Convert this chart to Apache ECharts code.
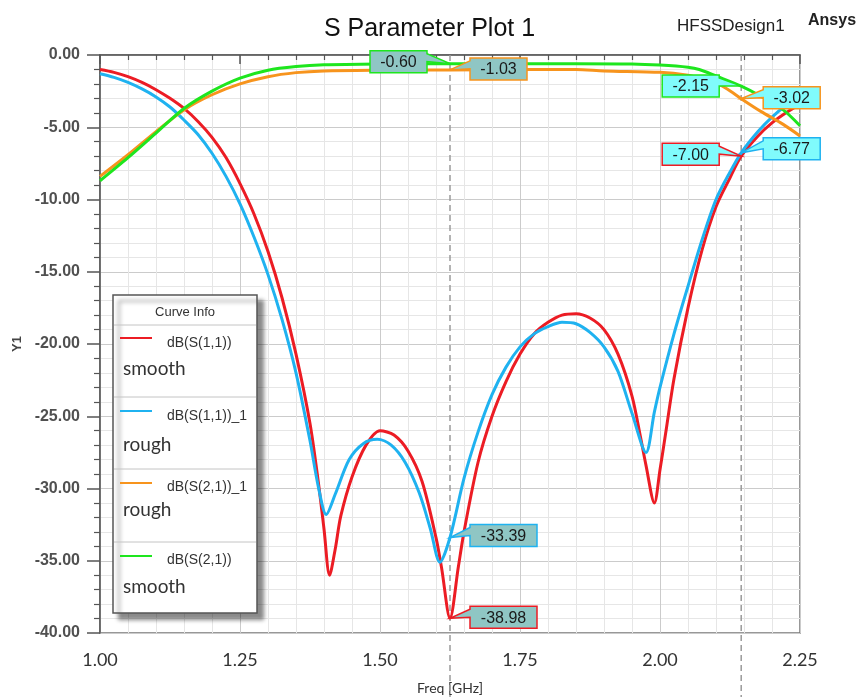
<!DOCTYPE html>
<html>
<head>
<meta charset="utf-8">
<title>S Parameter Plot 1</title>
<style>
  html, body { margin: 0; padding: 0; background: #fff; }
  #main { width: 859px; height: 697px; }
</style>
</head>
<body>
<div id="main"></div>
<script src="https://cdn.jsdelivr.net/npm/echarts@6/dist/echarts.min.js"></script>
<script>
// dB(S(1,1)) smooth
var s11SmoothFreq = [1.00, 1.025, 1.05, 1.075, 1.10, 1.125, 1.15, 1.175, 1.20, 1.225, 1.25, 1.275, 1.30, 1.325, 1.35, 1.375, 1.39, 1.40, 1.41, 1.42, 1.43, 1.45, 1.475, 1.50, 1.525, 1.55, 1.575, 1.60, 1.61, 1.625, 1.64, 1.65, 1.675, 1.70, 1.725, 1.75, 1.775, 1.80, 1.825, 1.85, 1.875, 1.90, 1.925, 1.95, 1.965, 1.975, 1.99, 2.00, 2.01, 2.025, 2.05, 2.075, 2.10, 2.125, 2.145, 2.175, 2.20, 2.225, 2.25];
var s11SmoothDb = [-1.0, -1.2, -1.5, -1.9, -2.4, -3.0, -3.7, -4.6, -5.7, -7.1, -8.9, -11.0, -13.6, -16.8, -20.7, -25.5, -29.6, -32.8, -36.0, -34.2, -31.9, -29.2, -27.0, -26.0, -26.3, -27.4, -29.5, -33.4, -35.5, -38.98, -35.4, -33.0, -28.2, -25.0, -22.6, -20.7, -19.3, -18.5, -18.0, -17.9, -18.2, -19.0, -20.7, -23.6, -26.4, -28.4, -31.0, -28.7, -26.2, -22.4, -17.5, -13.5, -10.5, -8.5, -7.00, -5.6, -4.7, -4.0, -3.4];

// dB(S(1,1))_1 rough
var s11RoughFreq = [1.00, 1.025, 1.05, 1.075, 1.10, 1.125, 1.15, 1.175, 1.20, 1.225, 1.25, 1.275, 1.30, 1.325, 1.35, 1.375, 1.39, 1.404, 1.42, 1.445, 1.47, 1.495, 1.52, 1.545, 1.57, 1.59, 1.607, 1.625, 1.65, 1.675, 1.70, 1.725, 1.75, 1.775, 1.80, 1.825, 1.85, 1.875, 1.90, 1.925, 1.95, 1.975, 1.99, 2.00, 2.025, 2.05, 2.075, 2.10, 2.125, 2.145, 2.175, 2.20, 2.225, 2.25];
var s11RoughDb = [-1.3, -1.55, -1.9, -2.35, -2.9, -3.6, -4.5, -5.5, -6.8, -8.4, -10.3, -12.6, -15.2, -18.3, -22.0, -26.7, -29.9, -31.8, -30.4, -28.0, -26.9, -26.6, -27.0, -28.2, -30.3, -32.8, -35.1, -33.39, -29.3, -26.1, -23.5, -21.6, -20.2, -19.3, -18.8, -18.5, -18.6, -19.2, -20.2, -21.9, -24.8, -27.5, -24.7, -23.0, -19.3, -16.0, -12.8, -10.0, -8.1, -6.77, -5.3, -4.3, -3.5, -2.9];

// dB(S(2,1))_1 rough
var s21RoughFreq = [1.00, 1.05, 1.10, 1.15, 1.20, 1.25, 1.30, 1.35, 1.40, 1.50, 1.625, 1.75, 1.85, 1.90, 2.00, 2.05, 2.07, 2.10, 2.12, 2.145, 2.18, 2.22, 2.25];
var s21RoughDb = [-8.4, -6.9, -5.3, -3.8, -2.75, -2.0, -1.5, -1.22, -1.1, -1.05, -1.03, -1.0, -1.0, -1.1, -1.2, -1.4, -1.6, -1.95, -2.35, -3.02, -3.9, -4.8, -5.6];

// dB(S(2,1)) smooth
var s21SmoothFreq = [1.00, 1.05, 1.10, 1.15, 1.20, 1.25, 1.30, 1.35, 1.40, 1.50, 1.625, 1.75, 1.85, 1.95, 2.00, 2.05, 2.07, 2.10, 2.145, 2.18, 2.22, 2.25];
var s21SmoothDb = [-8.7, -7.1, -5.4, -3.7, -2.5, -1.6, -1.05, -0.8, -0.68, -0.62, -0.60, -0.60, -0.60, -0.62, -0.70, -0.85, -1.0, -1.45, -2.15, -2.85, -3.8, -4.9];

var curveNames = ['dB(S(1,1))', 'dB(S(1,1))_1', 'dB(S(2,1))_1', 'dB(S(2,1))'];
var curveNotes = ['smooth', 'rough', 'rough', 'smooth'];
var curveColors = ['#ec1c24', '#1fb2f0', '#f7941d', '#1ee61e'];

// markers m1 / m2
var markerFreqs = [1.625, 2.145];
var s11SmoothMarks = [-38.98, -7.00];
var s11RoughMarks = [-33.39, -6.77];
var s21RoughMarks = [-1.03, -3.02];
var s21SmoothMarks = [-0.60, -2.15];

var pairs = function (xs, ys) {
    var d = [];
    for (var i = 0; i < xs.length; i++) {
        d.push([xs[i], ys[i]]);
    }
    return d;
};

var curveData = [
    pairs(s11SmoothFreq, s11SmoothDb),
    pairs(s11RoughFreq, s11RoughDb),
    pairs(s21RoughFreq, s21RoughDb),
    pairs(s21SmoothFreq, s21SmoothDb)
];
var curveMarks = [s11SmoothMarks, s11RoughMarks, s21RoughMarks, s21SmoothMarks];

// callout box offset from the marked point, same order as calloutData
var calloutLayout = [
    {dx: 20, dy: -12}, {dx: -79, dy: -13},
    {dx: 20, dy: -13}, {dx: 22, dy: -15},
    {dx: 20, dy: -12}, {dx: 22, dy: -12},
    {dx: -80, dy: -13}, {dx: -79, dy: -11}
];
var calloutFills = ['#8fc6c4', '#80fbfc'];

var calloutData = [];
for (var c = 0; c < curveMarks.length; c++) {
    for (var m = 0; m < markerFreqs.length; m++) {
        calloutData.push([markerFreqs[m], curveMarks[c][m], c, m]);
    }
}

var renderCallout = function (params, api) {
    var p = api.coord([api.value(0), api.value(1)]);
    var lay = calloutLayout[params.dataIndex];
    var txt = api.value(1).toFixed(2);
    var w = txt.length > 5 ? 67 : 57;
    var h = 22;
    var x0 = p[0] + lay.dx, y0 = p[1] + lay.dy;
    var pts;
    if (lay.dx < 0) {
        pts = [[x0, y0], [x0 + w, y0], [x0 + w, y0 + 3], [p[0], p[1]], [x0 + w, y0 + 11], [x0 + w, y0 + h], [x0, y0 + h]];
    } else {
        pts = [[x0, y0], [x0 + w, y0], [x0 + w, y0 + h], [x0, y0 + h], [x0, y0 + 11], [p[0], p[1]], [x0, y0 + 3]];
    }
    return {
        type: 'group',
        children: [
            {type: 'polygon', shape: {points: pts},
                style: {fill: calloutFills[api.value(3)], stroke: curveColors[api.value(2)], lineWidth: 1.5}},
            {type: 'text', x: x0 + w / 2, y: y0 + h / 2 + 1,
                style: {text: txt, align: 'center', verticalAlign: 'middle', fontSize: 16,
                    fontFamily: '"Liberation Sans", Arial', fill: '#1a1a1a'}}
        ]
    };
};

var series = [];
for (var i = 0; i < curveData.length; i++) {
    series.push({
        name: curveNames[i],
        type: 'line',
        data: curveData[i],
        smooth: 0.3,
        showSymbol: false,
        lineStyle: {color: curveColors[i], width: 3},
        z: 3
    });
}
series.push({
    type: 'custom',
    renderItem: renderCallout,
    data: calloutData,
    clip: false,
    z: 8
});

var legendChildren = function () {
    var rowLine = [43, 116, 188, 261];
    var rowName = [48, 121, 192, 265];
    var rowNote = [74, 150, 215, 292];
    var seps = [30, 102, 174, 247];
    var kids = [
        {type: 'rect', shape: {x: 0, y: 0, width: 144, height: 318},
            style: {fill: '#fff', stroke: '#555', lineWidth: 1.5,
                shadowColor: 'rgba(0,0,0,0.45)', shadowBlur: 4, shadowOffsetX: 6, shadowOffsetY: 6}},
        {type: 'text', x: 72, y: 17, style: {text: 'Curve Info', align: 'center', verticalAlign: 'middle',
            fontSize: 13, fontFamily: '"Liberation Sans", Arial', fill: '#333'}}
    ];
    for (var s = 0; s < seps.length; s++) {
        kids.push({type: 'line', shape: {x1: 1, y1: seps[s], x2: 143, y2: seps[s]}, style: {stroke: '#c4c4c4', lineWidth: 1}});
    }
    for (var r = 0; r < curveNames.length; r++) {
        kids.push({type: 'line', shape: {x1: 7, y1: rowLine[r], x2: 39, y2: rowLine[r]}, style: {stroke: curveColors[r], lineWidth: 2}});
        kids.push({type: 'text', x: 54, y: rowName[r], style: {text: curveNames[r], verticalAlign: 'middle',
            fontSize: 14, fontFamily: '"Liberation Sans", Arial', fill: '#333'}});
        kids.push({type: 'text', x: 10, y: rowNote[r], style: {text: curveNotes[r], verticalAlign: 'middle',
            fontSize: 19, fontFamily: 'Lato, "Open Sans"', fill: '#333'}});
    }
    return kids;
};

var myChart = echarts.init(document.getElementById('main'));

var option = {
    animation: false,
    backgroundColor: '#fff',
    title: {
        text: 'S Parameter Plot 1',
        left: 'center',
        top: 12,
        textStyle: {fontSize: 25, fontWeight: 'normal', color: '#111', fontFamily: '"Liberation Sans", Arial'}
    },
    grid: {left: 100, top: 55, width: 700, height: 578, containLabel: false, outerBoundsMode: 'none',
        show: true, borderColor: '#777', borderWidth: 1.5},
    xAxis: {
        type: 'value', min: 1, max: 2.25, interval: 0.25,
        name: 'Freq [GHz]', nameLocation: 'middle', nameGap: 48,
        nameTextStyle: {fontSize: 14, color: '#333', fontFamily: 'Lato'},
        axisLine: {lineStyle: {color: '#555', width: 1.5}},
        axisTick: {length: 9, lineStyle: {color: '#555', width: 1.5}},
        minorTick: {show: true, splitNumber: 5, length: 5, lineStyle: {color: '#555', width: 1.2}},
        axisLabel: {margin: 18, fontSize: 18, color: '#333', fontFamily: 'Lato',
            formatter: function (v) { return v.toFixed(2); }},
        splitLine: {lineStyle: {color: '#cbcbcb'}},
        minorSplitLine: {show: true, lineStyle: {color: '#e6e6e6'}}
    },
    yAxis: {
        type: 'value', min: -40, max: 0, interval: 5,
        name: 'Y1', nameLocation: 'middle', nameGap: 75,
        nameTextStyle: {fontSize: 13, fontWeight: 'bold', color: '#444', fontFamily: '"Liberation Sans", Arial'},
        axisLine: {lineStyle: {color: '#555', width: 1.5}},
        axisTick: {length: 13, lineStyle: {color: '#555', width: 1.5}},
        minorTick: {show: true, splitNumber: 5, length: 6, lineStyle: {color: '#555', width: 1.2}},
        axisLabel: {margin: 20, fontSize: 16, fontWeight: 'bold', color: '#505050', fontFamily: '"Liberation Sans", Arial',
            formatter: function (v) { return v.toFixed(2); }},
        splitLine: {lineStyle: {color: '#cbcbcb'}},
        minorSplitLine: {show: true, lineStyle: {color: '#e6e6e6'}}
    },
    series: series
};

myChart.setOption(option);

// dashed marker lines run past the axis down to the edge, legend box and header texts
var graphics = [];
for (var k = 0; k < markerFreqs.length; k++) {
    var px = myChart.convertToPixel({xAxisIndex: 0}, markerFreqs[k]);
    graphics.push({type: 'line', z: 1, shape: {x1: px, y1: 55, x2: px, y2: 697},
        style: {stroke: '#9a9a9a', lineWidth: 1.5, lineDash: [6, 4]}});
}
graphics.push({type: 'group', x: 113, y: 295, z: 20, children: legendChildren()});
graphics.push({type: 'text', x: 677, y: 18, z: 20, style: {text: 'HFSSDesign1', fontSize: 17,
    fontFamily: '"Liberation Sans", Arial', fill: '#222'}});
graphics.push({type: 'text', x: 808, y: 13, z: 20, style: {text: 'Ansys', fontSize: 16, fontWeight: 'bold',
    fontFamily: '"Liberation Sans", Arial', fill: '#222'}});
myChart.setOption({graphic: graphics});
</script>
</body>
</html>
